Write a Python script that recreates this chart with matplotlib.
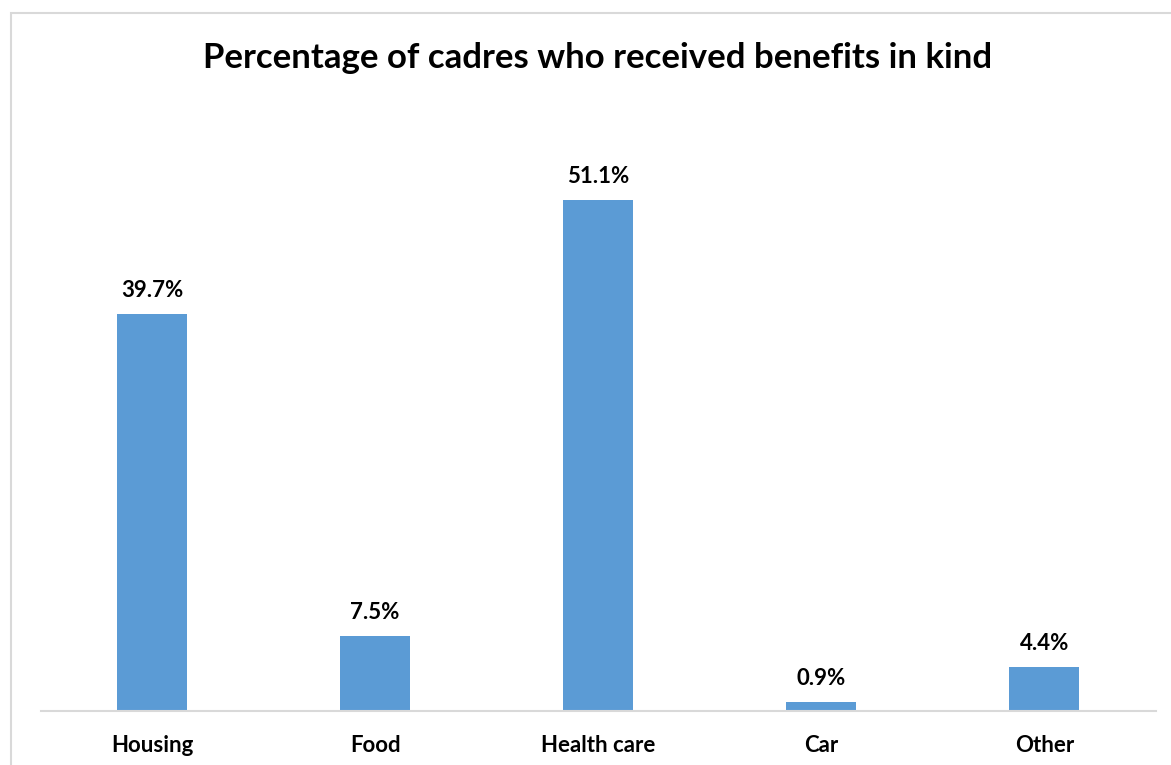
import matplotlib.pyplot as plt
from matplotlib.patches import Rectangle

# Benefits in kind received by cadres (percent)
categories = ["Housing", "Food", "Health care", "Car", "Other"]
shares = [39.7, 7.5, 51.1, 0.9, 4.4]

W, H = 1171, 765
plt.rcParams['font.family'] = ['Lato', 'DejaVu Sans']

fig = plt.figure(figsize=(W / 100, H / 100), dpi=100)

# light grey chart frame, running off the right and bottom edges
fig.patches.append(Rectangle((11 / W, -0.05), 1.1, (H - 13) / H + 0.05,
                             transform=fig.transFigure, fill=False,
                             edgecolor='#D9D9D9', linewidth=1.5))

# plot area: x from 40.5 to 1156 px, baseline at 711 px, 10 px per percent
ax = fig.add_axes([40.5 / W, (H - 711) / H, (1156 - 40.5) / W, 600 / H])
x = range(len(categories))
bars = ax.bar(x, shares, width=0.314, color='#5B9BD5')
ax.set_xlim(-0.5, len(categories) - 0.5)
ax.set_ylim(0, 60)

for rect, v in zip(bars, shares):
    ax.text(rect.get_x() + rect.get_width() / 2, v + 1.3, f"{v}%",
            ha='center', va='bottom', fontsize=16, fontweight='bold')

ax.set_xticks(list(x))
ax.set_xticklabels(categories, fontsize=16, fontweight='bold')
ax.tick_params(axis='x', length=0, pad=17.5)
ax.set_yticks([])
for side in ('left', 'right', 'top'):
    ax.spines[side].set_visible(False)
ax.spines['bottom'].set_color('#D9D9D9')
ax.spines['bottom'].set_linewidth(1.5)

fig.text(598 / W, 1 - 58 / H, "Percentage of cadres who received benefits in kind",
         ha='center', va='center', fontsize=25, fontweight='bold')

fig.savefig("out.png", dpi=100)
